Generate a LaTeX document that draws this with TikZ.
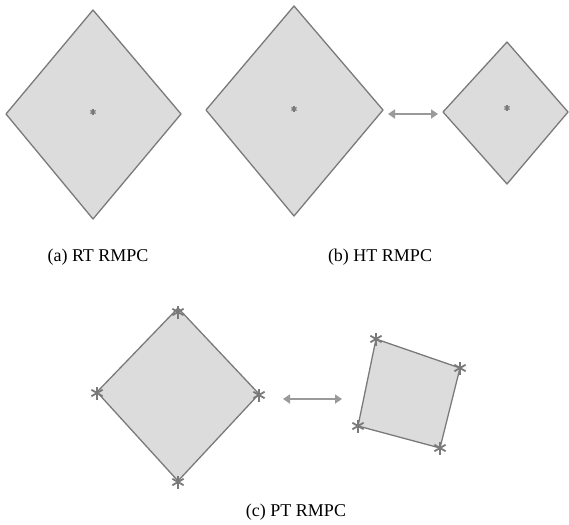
\documentclass[tikz,border=0pt]{standalone}
\usepackage{fontspec}
\setmainfont{Liberation Serif}
\usetikzlibrary{arrows.meta}
\definecolor{fillg}{HTML}{DCDCDC}
\definecolor{lineg}{HTML}{7A7A7A}
\definecolor{arrg}{HTML}{9A9A9A}
\tikzset{
  region/.style={draw=lineg, fill=fillg, line width=1.3pt, line join=round},
  dbl/.style={draw=arrg, line width=2.6pt, {Triangle[length=7pt,width=9pt]}-{Triangle[length=7pt,width=9pt]}},
  captext/.style={font=\fontsize{18}{20}\selectfont, inner sep=0pt},
  astline/.style={draw=lineg, line width=1.3pt},
  bigast/.style={draw=lineg, line width=1.8pt},
}
\newcommand{\astk}[2]{% position, radius
  \foreach \a in {90,30,150} {\draw[astline, shift={#1}] (\a:#2) -- (\a+180:#2);}
}
\newcommand{\bastk}[2]{% position, radius
  \foreach \a in {90,30,150} {\draw[bigast, shift={#1}] (\a:#2) -- (\a+180:#2);}
}
\begin{document}
\begin{tikzpicture}[x=1pt,y=-1pt]
\useasboundingbox (0,0) rectangle (569,524);
% (a)
\coordinate (a1) at (93,10); \coordinate (a2) at (181,114);
\coordinate (a3) at (93,219); \coordinate (a4) at (6,114);
\draw[region] (a1) -- (a2) -- (a3) -- (a4) -- cycle;
\coordinate (ac) at (93,112);
\astk{(ac)}{3}
% (b)
\coordinate (b1) at (294,6); \coordinate (b2) at (383,110);
\coordinate (b3) at (294,216); \coordinate (b4) at (206,110);
\draw[region] (b1) -- (b2) -- (b3) -- (b4) -- cycle;
\coordinate (bc) at (294,109);
\astk{(bc)}{3}
\coordinate (s1) at (507,42); \coordinate (s2) at (568,112);
\coordinate (s3) at (507,184); \coordinate (s4) at (443,112);
\draw[region] (s1) -- (s2) -- (s3) -- (s4) -- cycle;
\coordinate (sc) at (507,108);
\astk{(sc)}{3}
\coordinate (ba1) at (388,114); \coordinate (ba2) at (438,114);
\draw[dbl] (ba1) -- (ba2);
% (c)
\coordinate (c1) at (178,308); \coordinate (c2) at (259,394);
\coordinate (c3) at (178,481); \coordinate (c4) at (97,392);
\draw[region] (c1) -- (c2) -- (c3) -- (c4) -- cycle;
\coordinate (cs1) at (178,312); \coordinate (cs2) at (259,395);
\coordinate (cs3) at (178,482); \coordinate (cs4) at (97,393);
\bastk{(cs1)}{6.5}\bastk{(cs2)}{6.5}\bastk{(cs3)}{6.5}\bastk{(cs4)}{6.5}
\coordinate (r1) at (376,339); \coordinate (r2) at (460,368);
\coordinate (r3) at (440,448); \coordinate (r4) at (358,426);
\draw[region] (r1) -- (r2) -- (r3) -- (r4) -- cycle;
\bastk{(r1)}{6.5}\bastk{(r2)}{6.5}\bastk{(r3)}{6.5}\bastk{(r4)}{6.5}
\coordinate (ca1) at (283,399); \coordinate (ca2) at (342,399);
\draw[dbl] (ca1) -- (ca2);
% captions
\node[captext] (la) at (98,257) {(a) RT RMPC};
\node[captext] (lb) at (380,257) {(b) HT RMPC};
\node[captext] (lc) at (296,512) {(c) PT RMPC};
\end{tikzpicture}
\end{document}
